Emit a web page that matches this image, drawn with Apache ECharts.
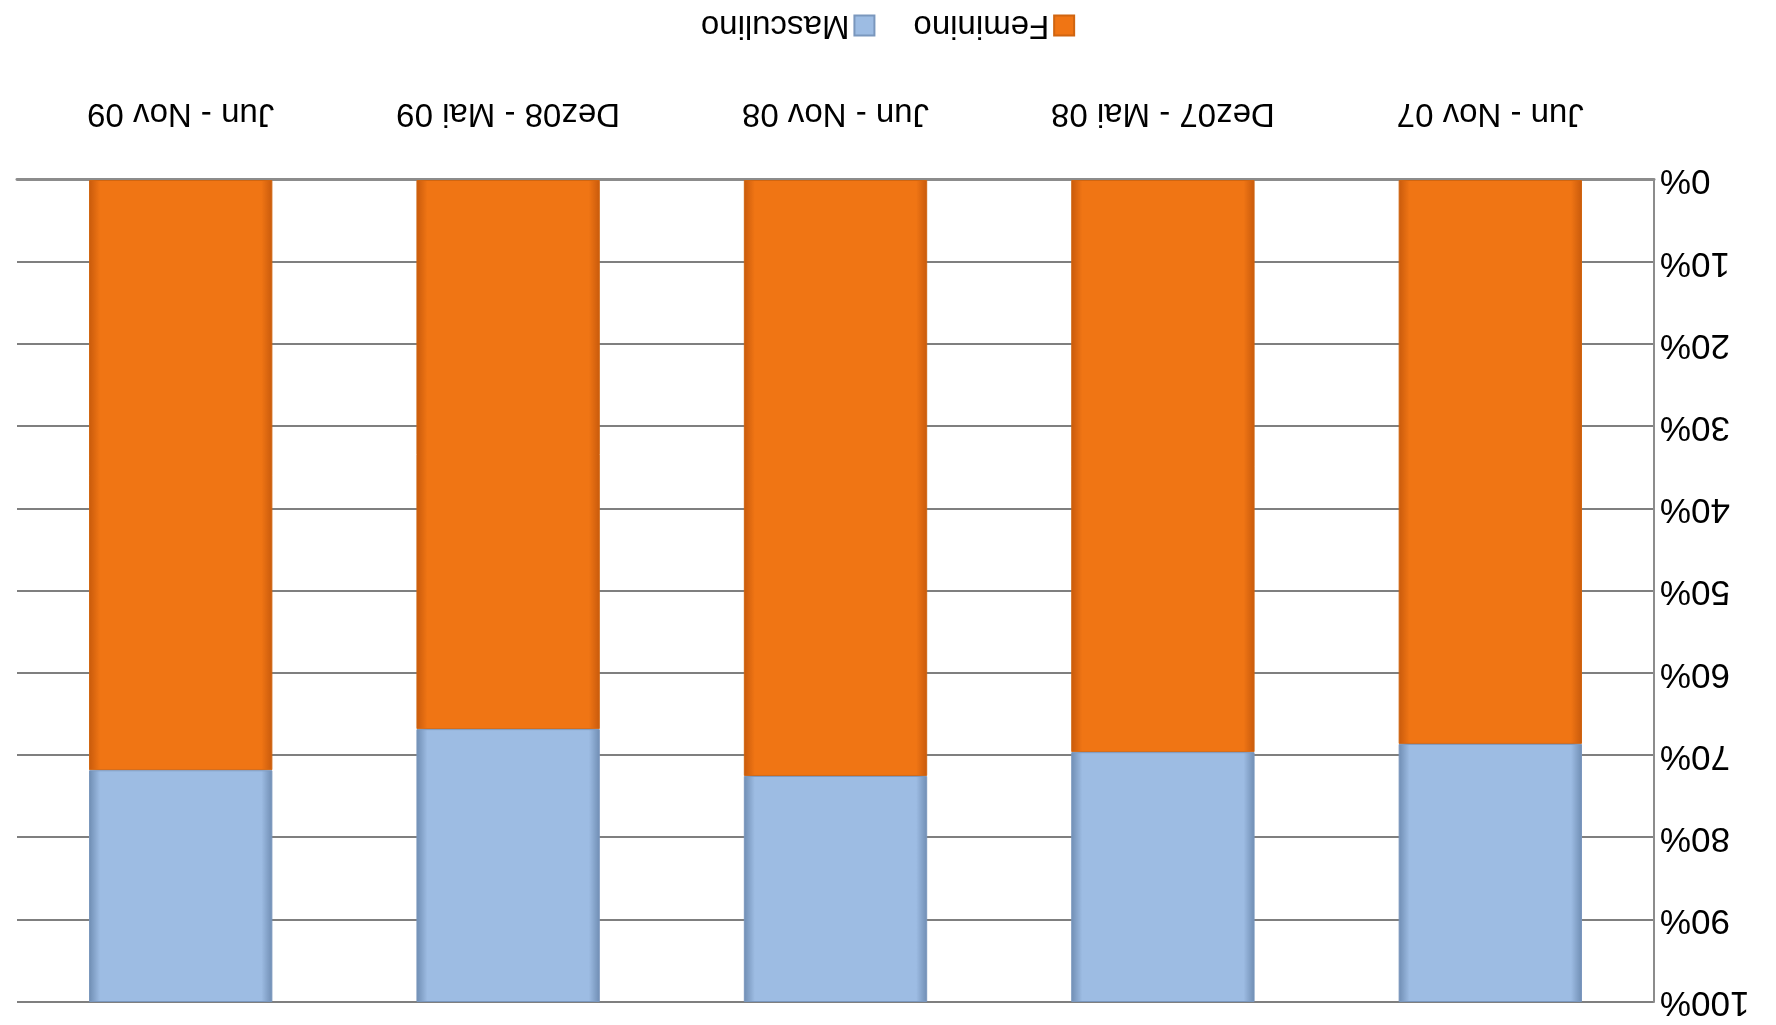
<!DOCTYPE html>
<html>
<head>
<meta charset="utf-8">
<script src="https://cdn.jsdelivr.net/npm/echarts@6/dist/echarts.min.js"></script>
<style>
  html, body { margin: 0; padding: 0; background: #fff; }
  /* the reference picture is upside down, so the whole chart is turned */
  #chart { width: 1776px; height: 1025px; transform: rotate(180deg); }
</style>
</head>
<body>
<div id="chart"></div>
<script>
const categories = ["Jun - Nov 07", "Dez07 - Mai 08", "Jun - Nov 08", "Dez08 - Mai 09", "Jun - Nov 09"];
const feminino = [68.6, 69.6, 72.5, 66.8, 71.8];
const masculino = [31.4, 30.4, 27.5, 33.2, 28.2];
const yTicks = [0, 10, 20, 30, 40, 50, 60, 70, 80, 90, 100];

const font = "Liberation Sans, Arial, sans-serif";

function barGradient(edge, mid) {
  return new echarts.graphic.LinearGradient(0, 0, 1, 0, [
    { offset: 0, color: edge },
    { offset: 0.06, color: mid },
    { offset: 0.94, color: mid },
    { offset: 1, color: edge }
  ]);
}

const chart = echarts.init(document.getElementById("chart"));

const option = {
  animation: false,
  backgroundColor: "#fff",
  grid: { left: 122, right: 17, top: 23, bottom: 180 },
  legend: {
    bottom: 4,
    left: "center",
    icon: "rect",
    itemWidth: 20,
    itemHeight: 20,
    itemGap: 38,
    textStyle: { fontFamily: font, fontSize: 33, color: "#000" },
    data: ["Feminino", "Masculino"]
  },
  xAxis: {
    type: "category",
    data: categories,
    axisLine: { lineStyle: { color: "#8c8c8c", width: 3 } },
    axisTick: { show: false },
    axisLabel: {
      fontFamily: font, fontSize: 33, color: "#000", margin: 50
    }
  },
  yAxis: {
    type: "value",
    min: 0,
    max: 100,
    interval: 10,
    axisLine: { show: true, lineStyle: { color: "#8c8c8c", width: 2 } },
    axisTick: { show: false },
    splitLine: { lineStyle: { color: "#7f7f7f", width: 2 } },
    axisLabel: {
      fontFamily: font, fontSize: 35, color: "#000", margin: 6,
      formatter: (v) => yTicks.includes(v) ? v + "%" : ""
    }
  },
  series: [
    {
      name: "Feminino",
      type: "bar",
      stack: "total",
      barCategoryGap: "44%",
      data: feminino,
      itemStyle: {
        color: barGradient("#c85a0c", "#f07514"),
        borderColor: "#d06510",
        borderWidth: 1
      }
    },
    {
      name: "Masculino",
      type: "bar",
      stack: "total",
      barCategoryGap: "44%",
      data: masculino,
      itemStyle: {
        color: barGradient("#6f8db3", "#9dbce3"),
        borderColor: "#7a97bd",
        borderWidth: 1
      }
    }
  ]
};

chart.setOption(option);
</script>
</body>
</html>
